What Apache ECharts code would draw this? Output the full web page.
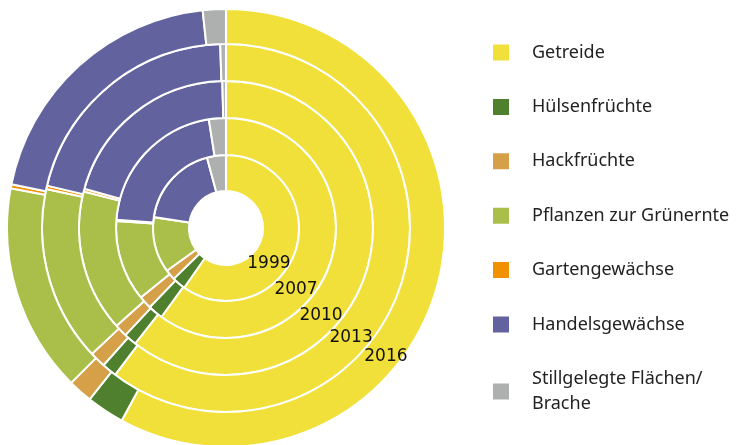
<!DOCTYPE html>
<html>
<head>
<meta charset="utf-8">
<script src="https://cdn.jsdelivr.net/npm/echarts@6/dist/echarts.min.js"></script>
<style>
  html, body { margin: 0; padding: 0; background: #fff; }
  #chart { width: 738px; height: 445px; }
</style>
</head>
<body>
<div id="chart"></div>
<script>
const categories = ['Getreide', 'Hülsenfrüchte', 'Hackfrüchte', 'Pflanzen zur Grünernte',
  'Gartengewächse', 'Handelsgewächse', 'Stillgelegte Flächen/\nBrache']
const colors = ['#F2E03A', '#4F802E', '#D5A048', '#AABF4A', '#F29100', '#62639E', '#AEAFAF']
const years = ['1999', '2007', '2010', '2013', '2016']

// Anteile in %, je Jahr in der Reihenfolge der Kategorien
const share1999 = [59.7, 3.0, 2.3, 12.3, 0.05, 18.4, 4.2]
const share2007 = [60.0, 2.2, 1.9, 11.9, 0.2, 21.3, 2.5]
const share2010 = [60.6, 1.4, 1.4, 15.6, 0.3, 20.3, 0.4]
const share2013 = [60.3, 1.3, 1.4, 15.4, 0.3, 20.8, 0.5]
const share2016 = [57.9, 2.8, 1.8, 15.4, 0.3, 20.1, 1.7]
const shares = [share1999, share2007, share2010, share2013, share2016]

const center = [226, 228]
const ringEdges = [37, 73, 110, 147, 184, 219]
// Lage der Jahreszahlen: Winkel (Grad, im Uhrzeigersinn von oben) und Abstand zur Ringmitte
const labelAngles = [130, 131.5, 132.8, 131.3, 128.9]
const labelShift = [1, 2, 1, 1, 4]

const myChart = echarts.init(document.getElementById('chart'))

const series = years.map((year, i) => ({
  name: year,
  type: 'pie',
  center: center,
  radius: [ringEdges[i], ringEdges[i + 1]],
  startAngle: 90,
  clockwise: true,
  avoidLabelOverlap: false,
  label: { show: false },
  labelLine: { show: false },
  emphasis: { disabled: true },
  itemStyle: { borderColor: '#fff', borderWidth: 2 },
  data: categories.map((c, k) => ({
    name: c,
    value: shares[i][k],
    itemStyle: { color: colors[k] }
  }))
}))

// Jahreszahlen auf den Ringen
const yearLabels = years.map((year, i) => {
  const r = (ringEdges[i] + ringEdges[i + 1]) / 2 + labelShift[i]
  const a = labelAngles[i] * Math.PI / 180
  return {
    type: 'text',
    x: center[0] + r * Math.sin(a),
    y: center[1] - r * Math.cos(a),
    style: {
      text: year,
      fill: '#111',
      font: '17px "DejaVu Sans"',
      align: 'center',
      verticalAlign: 'middle'
    },
    z: 10
  }
})

const options = {
  animation: false,
  color: colors,
  legend: {
    orient: 'vertical',
    left: 486,
    top: 35,
    icon: 'rect',
    itemWidth: 18,
    itemHeight: 18,
    itemGap: 29.4,
    selectedMode: false,
    data: categories,
    textStyle: {
      fontFamily: '"Noto Sans"',
      fontSize: 18,
      lineHeight: 25,
      color: '#222',
      padding: [0, 0, 0, 17]
    }
  },
  graphic: yearLabels,
  series: series
}

myChart.setOption(options)
window.addEventListener('resize', () => {
  myChart.resize()
})
</script>
</body>
</html>
